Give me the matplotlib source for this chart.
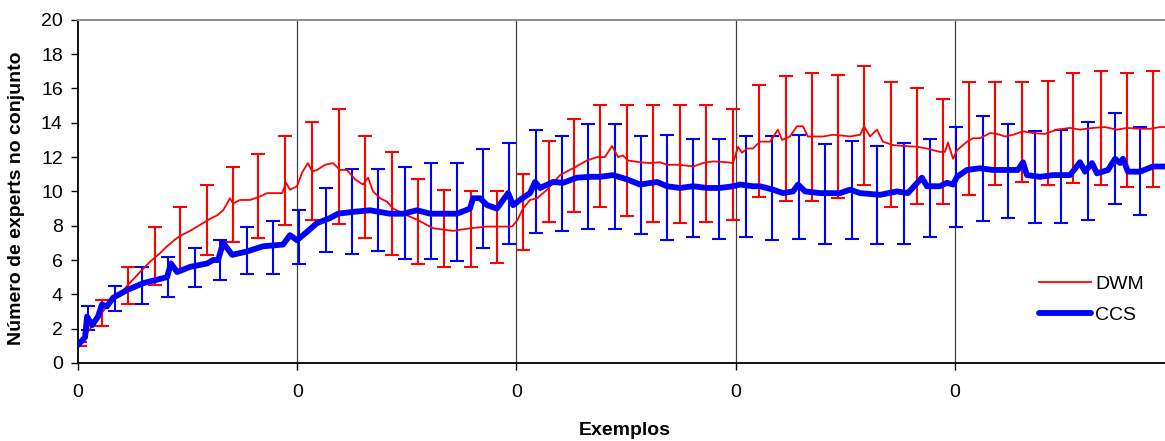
import numpy as np
import matplotlib
matplotlib.use("Agg")
import matplotlib.pyplot as plt

plt.rcParams["font.family"] = ["Liberation Sans", "DejaVu Sans"]

# DWM mean line (x in examples, grid every 1000)
dwm_x = [0, 55, 100, 146, 192, 224, 283, 328, 374, 406, 443, 465, 511, 557, 602, 634,
         662, 693, 707, 739, 785, 830, 862, 931, 949, 967, 999, 1022, 1049, 1068, 1090,
         1127, 1163, 1195, 1227, 1264, 1300, 1323, 1346, 1378, 1410, 1437, 1501, 1547,
         1620, 1711, 1788, 1866, 1980, 2003, 2030, 2062, 2094, 2140, 2199, 2258, 2322,
         2368, 2404, 2436, 2464, 2486, 2509, 2564, 2609, 2655, 2687, 2746, 2806, 2851,
         2897, 2961, 2988, 3011, 3029, 3052, 3079, 3111, 3157, 3193, 3212, 3248, 3280,
         3307, 3330, 3399, 3444, 3490, 3522, 3568, 3586, 3613, 3645, 3672, 3718, 3764,
         3828, 3873, 3932, 3955, 3969, 3992, 4010, 4056, 4083, 4115, 4161, 4193, 4229,
         4266, 4311, 4357, 4411, 4466, 4526, 4571, 4631, 4685, 4740, 4786, 4845, 4891,
         4936, 4959]
dwm_y = [1.0, 2.0, 2.8, 3.5, 4.0, 4.5, 5.3, 5.9, 6.4, 6.8, 7.2, 7.4, 7.7, 8.05, 8.4, 8.6,
         8.9, 9.6, 9.3, 9.5, 9.5, 9.7, 9.9, 9.9, 10.5, 10.1, 10.3, 11.1, 11.65, 11.15, 11.25,
         11.55, 11.65, 11.25, 11.25, 10.7, 10.4, 10.8, 10.0, 9.6, 9.4, 9.0, 8.6, 8.35,
         7.85, 7.7, 7.85, 7.95, 7.95, 8.3, 9.0, 9.5, 9.6, 10.1, 10.95, 11.35, 11.8,
         12.0, 12.0, 12.65, 12.0, 12.1, 11.8, 11.7, 11.65, 11.7, 11.55, 11.55, 11.45, 11.65,
         11.75, 11.7, 11.65, 12.6, 12.25, 12.5, 12.5, 12.9, 12.9, 13.6, 13.0, 13.2, 13.8,
         13.8, 13.2, 13.2, 13.3, 13.25, 13.2, 13.3, 13.8, 13.2, 13.6, 12.9, 12.7, 12.65,
         12.6, 12.5, 12.3, 12.3, 12.85, 11.9, 12.4, 12.9, 13.1, 13.1, 13.4, 13.35, 13.2,
         13.3, 13.5, 13.4, 13.35, 13.6, 13.7, 13.6, 13.7, 13.75, 13.6, 13.7, 13.65, 13.65,
         13.75, 13.75]

# CCS mean line
ccs_x = [0, 32, 41, 64, 91, 109, 132, 160, 224, 297, 406, 424, 452, 511, 589, 616, 639,
         662, 703, 771, 844, 935, 967, 999, 1045, 1090, 1150, 1186, 1250, 1332, 1423, 1483,
         1547, 1606, 1729, 1788, 1802, 1834, 1866, 1911, 1962, 1985, 2016, 2062, 2085, 2108,
         2167, 2213, 2276, 2336, 2381, 2441, 2505, 2564, 2641, 2687, 2746, 2806, 2870, 2929,
         2988, 3020, 3079, 3111, 3171, 3216, 3262, 3285, 3317, 3385, 3476, 3522, 3568, 3659,
         3736, 3786, 3850, 3873, 3932, 3964, 3992, 4010, 4056, 4115, 4174, 4238, 4288, 4311,
         4329, 4389, 4448, 4526, 4571, 4594, 4626, 4649, 4699, 4731, 4754, 4767, 4790, 4845,
         4904, 4959]
ccs_y = [1.05, 1.5, 2.7, 2.2, 2.7, 3.4, 3.3, 3.8, 4.25, 4.65, 5.0, 5.8, 5.3, 5.6, 5.8, 6.0, 6.0,
         7.0, 6.3, 6.5, 6.8, 6.9, 7.45, 7.15, 7.65, 8.15, 8.45, 8.7, 8.8, 8.9, 8.7, 8.7,
         8.9, 8.7, 8.7, 9.0, 9.6, 9.6, 9.2, 9.0, 9.9, 9.2, 9.5, 9.9, 10.55, 10.2,
         10.55, 10.5, 10.8, 10.85, 10.85, 10.95, 10.7, 10.4, 10.55, 10.3, 10.2, 10.3, 10.2, 10.2,
         10.3, 10.4, 10.3, 10.3, 10.1, 9.9, 10.0, 10.4, 10.0, 9.9, 9.9, 10.1, 9.9, 9.8,
         10.0, 9.9, 10.8, 10.3, 10.3, 10.5, 10.4, 10.85, 11.25, 11.35, 11.25, 11.25, 11.25, 11.7,
         10.95, 10.85, 10.95, 10.95, 11.7, 11.15, 11.65, 11.05, 11.25, 11.9, 11.65, 11.9, 11.15, 11.15,
         11.45, 11.45]

# DWM error bars (low / high)
dwm_err_x = [9, 109, 228, 351, 465, 589, 707, 821, 944, 1068, 1191, 1309, 1432, 1551, 1670,
             1793, 1911, 2030, 2149, 2263, 2381, 2505, 2623, 2746, 2865, 2988, 3107, 3230,
             3349, 3467, 3586, 3709, 3828, 3946, 4065, 4183, 4307, 4425, 4539, 4667, 4786, 4904]
dwm_lo = [1.0, 2.15, 3.45, 4.55, 5.4, 6.3, 7.05, 7.3, 8.05, 8.35, 8.1, 7.3, 6.3, 5.75, 5.6,
          5.6, 5.85, 6.6, 8.2, 8.8, 9.1, 8.55, 8.2, 8.15, 8.2, 8.35, 9.7, 9.45,
          9.45, 9.6, 10.35, 9.1, 9.25, 9.25, 9.8, 10.35, 10.55, 10.35, 10.5, 10.35, 10.25, 10.25]
dwm_hi = [1.2, 3.65, 5.6, 7.95, 9.1, 10.35, 11.4, 12.2, 13.2, 14.05, 14.8, 13.2, 12.3, 10.7, 10.1,
          10.0, 10.0, 11.0, 12.95, 14.2, 15.05, 15.05, 15.05, 15.05, 15.05, 14.8, 16.2, 16.7,
          16.9, 16.8, 17.3, 16.35, 16.0, 15.4, 16.35, 16.35, 16.35, 16.45, 16.9, 17.0, 16.9, 17.0]

# CCS error bars (low / high)
ccs_err_x = [46, 169, 292, 411, 534, 648, 771, 890, 1008, 1131, 1250, 1369, 1492, 1610, 1729,
             1848, 1966, 2089, 2208, 2327, 2450, 2568, 2687, 2806, 2924, 3047, 3166, 3289,
             3408, 3531, 3645, 3768, 3887, 4005, 4129, 4243, 4366, 4484, 4608, 4731, 4845]
ccs_lo = [1.9, 3.0, 3.45, 3.85, 4.4, 4.85, 5.2, 5.2, 5.75, 6.45, 6.35, 6.5, 6.05, 6.05, 5.95,
          6.7, 6.95, 7.6, 7.7, 7.8, 7.8, 7.5, 7.15, 7.35, 7.2, 7.35, 7.15, 7.2,
          6.95, 7.2, 6.95, 6.95, 7.35, 7.95, 8.25, 8.45, 8.15, 8.15, 8.35, 9.25, 8.6]
ccs_hi = [3.3, 4.5, 5.6, 6.2, 6.7, 7.15, 7.95, 8.25, 8.9, 10.2, 11.3, 11.3, 11.45, 11.65, 11.65,
          12.5, 12.85, 13.6, 13.2, 13.95, 13.95, 13.2, 13.3, 13.05, 13.05, 13.2, 13.2, 13.3,
          12.75, 12.95, 12.65, 12.85, 13.05, 13.75, 14.4, 13.95, 13.5, 13.6, 14.05, 14.55, 13.75]

x_ticks = [0, 1000, 2000, 3000, 4000]
x_tick_labels = ["0", "0", "0", "0", "0"]

fig = plt.figure(figsize=(11.65, 4.41), dpi=100)
ax = fig.add_axes([0.067, 0.177, 0.933, 0.778])

def draw_err(x, lo, hi, color):
    lo = np.array(lo)
    hi = np.array(hi)
    mid = (lo + hi) / 2
    ax.errorbar(x, mid, yerr=(hi - lo) / 2, fmt="none", ecolor=color,
                elinewidth=1.5, capsize=5, capthick=1.5, zorder=3)

for gx in x_ticks[1:]:
    ax.axvline(gx, color="#404040", lw=0.9, zorder=1)

draw_err(dwm_err_x, dwm_lo, dwm_hi, "#FF0000")
ax.plot(dwm_x, dwm_y, color="#FF0000", lw=1.3, label="DWM", zorder=4)
draw_err(ccs_err_x, ccs_lo, ccs_hi, "#0000FF")
ax.plot(ccs_x, ccs_y, color="#0000FF", lw=4.2, label="CCS", zorder=5,
        solid_capstyle="round", solid_joinstyle="round")

ax.set_xlim(0, 4959)
ax.set_ylim(0, 20)
ax.set_yticks(np.arange(0, 21, 2))
ax.set_xticks(x_ticks)
ax.set_xticklabels(x_tick_labels)
ax.tick_params(axis="both", labelsize=14, length=5, width=1)
ax.tick_params(axis="x", pad=10)
ax.tick_params(axis="y", pad=6)

ax.spines["right"].set_visible(False)
ax.spines["top"].set_color("#909090")
ax.spines["top"].set_linewidth(1.5)
ax.spines["left"].set_linewidth(1.3)
ax.spines["bottom"].set_linewidth(1.3)

ax.set_ylabel("Número de experts no conjunto", fontsize=14, fontweight="bold")
ax.yaxis.set_label_coords(-0.049, 0.481)
ax.set_xlabel("Exemplos", fontsize=14, fontweight="bold")
ax.xaxis.set_label_coords(0.503, -0.172)

ax.legend(loc="center left", bbox_to_anchor=(0.875, 0.185), frameon=False,
          fontsize=14, handlelength=2.7, handletextpad=0.2, labelspacing=0.7,
          borderpad=0)

fig.savefig("out.png", dpi=100)
